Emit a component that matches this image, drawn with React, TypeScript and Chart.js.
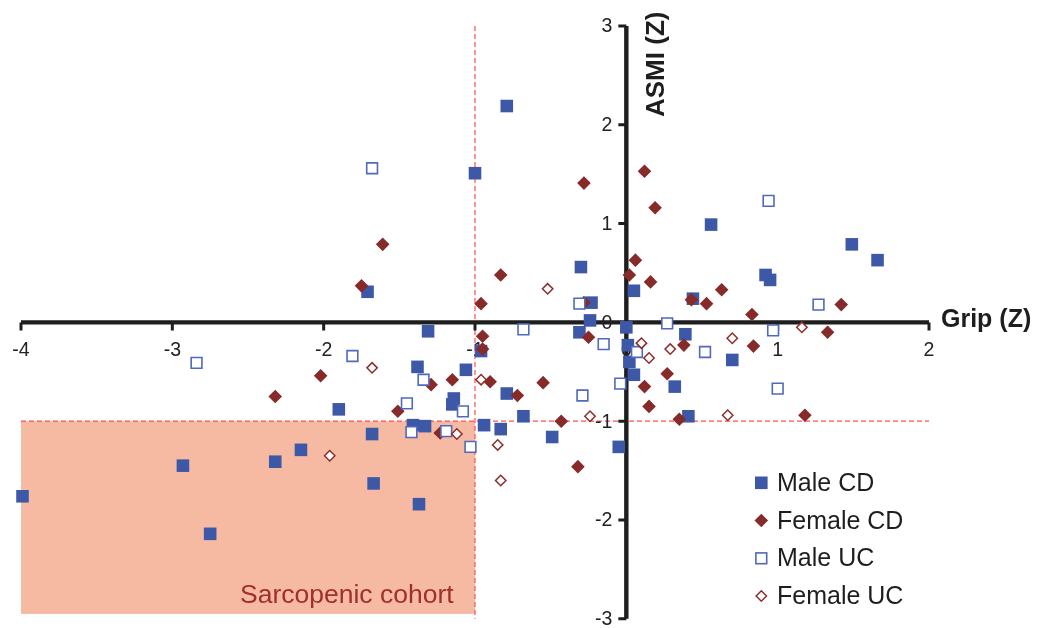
import React, { useEffect, useRef } from 'react';
import { Chart, registerables } from 'chart.js';

Chart.register(...registerables);

const xTicks = [-4, -3, -2, -1, 0, 1, 2];
const yTicks = [-3, -2, -1, 0, 1, 2, 3];
const cutoffX = -1;
const cutoffY = -1;

const seriesNames = ['Male CD', 'Female CD', 'Male UC', 'Female UC'];

const maleCD: [number, number][] = [
  [-1.0, 1.51], [-0.79, 2.19], [-0.3, 0.56], [0.05, 0.32], [-1.71, 0.31], [-0.23, 0.2],
  [0.56, 0.99], [1.49, 0.79], [1.66, 0.63], [0.92, 0.48], [0.95, 0.43], [0.44, 0.24],
  [0.39, -0.12], [0.7, -0.38], [0.32, -0.65], [0.41, -0.95], [-0.24, 0.02], [-1.31, -0.09],
  [-0.31, -0.1], [0.0, -0.05], [0.01, -0.23], [0.02, -0.4], [0.05, -0.53], [-0.05, -1.26],
  [-0.49, -1.16], [-0.68, -0.95], [-0.79, -0.72], [-0.83, -1.08], [-0.94, -1.04], [-0.96, -0.29],
  [-1.06, -0.48], [-1.14, -0.77], [-1.15, -0.83], [-1.38, -0.45], [-1.41, -1.04], [-1.33, -1.05],
  [-1.68, -1.13], [-1.67, -1.63], [-1.37, -1.84], [-1.9, -0.88], [-2.15, -1.29], [-2.32, -1.41],
  [-2.93, -1.45], [-3.99, -1.76], [-2.75, -2.14],
];

const femaleCD: [number, number][] = [
  [-0.28, 1.41], [0.12, 1.53], [0.19, 1.16], [-1.61, 0.79], [-0.83, 0.48], [0.06, 0.63],
  [0.02, 0.48], [0.16, 0.41], [-1.75, 0.37], [-0.96, 0.19], [-0.28, 0.2], [0.63, 0.33],
  [0.43, 0.23], [0.53, 0.19], [1.42, 0.18], [0.83, 0.08], [1.33, -0.1], [0.38, -0.23],
  [0.84, -0.24], [0.27, -0.52], [0.35, -0.98], [1.18, -0.94], [-0.25, -0.15], [0.12, -0.65],
  [0.15, -0.85], [-0.43, -1.0], [-0.32, -1.46], [-0.55, -0.61], [-0.72, -0.74], [-0.9, -0.6],
  [-0.95, -0.14], [-0.95, -0.27], [-1.15, -0.58], [-1.23, -1.12], [-1.29, -0.63], [-1.51, -0.9],
  [-2.02, -0.54], [-2.32, -0.75],
];

const maleUC: [number, number][] = [
  [-1.68, 1.56], [-0.31, 0.19], [0.94, 1.23], [1.27, 0.18], [0.27, -0.01], [0.97, -0.08],
  [0.52, -0.3], [1.0, -0.67], [-0.68, -0.07], [-0.15, -0.22], [0.07, -0.3], [-0.04, -0.62],
  [-0.29, -0.74], [-1.03, -1.26], [-1.08, -0.9], [-1.19, -1.1], [-1.34, -0.58], [-1.45, -0.82],
  [-1.42, -1.11], [-1.81, -0.34], [-2.84, -0.41],
];

const femaleUC: [number, number][] = [
  [-0.52, 0.34], [1.16, -0.05], [0.7, -0.16], [0.29, -0.27], [0.67, -0.94], [0.1, -0.21],
  [0.15, -0.36], [-0.24, -0.95], [-0.85, -1.24], [-0.83, -1.6], [-0.96, -0.58], [-1.12, -1.13],
  [-1.68, -0.46], [-1.96, -1.35],
];

const FONT = '"Liberation Sans", Arial, Helvetica, sans-serif';
const BLUE = '#3E58A8';
const RED = '#862A2A';
const BLUE_OPEN = '#5069BC';
const RED_OPEN = '#8E2C2C';

function drawMarker(ctx: CanvasRenderingContext2D, kind: number, x: number, y: number) {
  ctx.save();
  if (kind === 0) {
    ctx.fillStyle = BLUE;
    ctx.fillRect(x - 6.3, y - 6.3, 12.6, 12.6);
  } else if (kind === 1) {
    const r = 6.8;
    ctx.fillStyle = RED;
    ctx.beginPath();
    ctx.moveTo(x, y - r); ctx.lineTo(x + r, y); ctx.lineTo(x, y + r); ctx.lineTo(x - r, y); ctx.closePath();
    ctx.fill();
  } else if (kind === 2) {
    ctx.fillStyle = '#fff';
    ctx.strokeStyle = BLUE_OPEN;
    ctx.lineWidth = 1.6;
    ctx.fillRect(x - 5.4, y - 5.4, 10.8, 10.8);
    ctx.strokeRect(x - 5.4, y - 5.4, 10.8, 10.8);
  } else {
    const r = 5.2;
    ctx.fillStyle = '#fff';
    ctx.strokeStyle = RED_OPEN;
    ctx.lineWidth = 1.5;
    ctx.beginPath();
    ctx.moveTo(x, y - r); ctx.lineTo(x + r, y); ctx.lineTo(x, y + r); ctx.lineTo(x - r, y); ctx.closePath();
    ctx.fill();
    ctx.stroke();
  }
  ctx.restore();
}

const overlay = {
  id: 'overlay',
  beforeDatasetsDraw(chart: any) {
    const { ctx, scales } = chart;
    const xs = scales.x;
    const ys = scales.y;
    const px = (v: number) => xs.getPixelForValue(v);
    const py = (v: number) => ys.getPixelForValue(v);
    ctx.save();

    // sarcopenic shaded region
    ctx.fillStyle = '#F6BAA2';
    ctx.fillRect(px(-4), py(cutoffY), px(cutoffX) - px(-4), py(-2.95) - py(cutoffY));

    // dashed cut-off lines
    ctx.strokeStyle = '#FF4F4F';
    ctx.lineWidth = 1.2;
    ctx.setLineDash([5, 3]);
    ctx.beginPath();
    ctx.moveTo(px(cutoffX), py(3));
    ctx.lineTo(px(cutoffX), py(-3));
    ctx.moveTo(px(-4), py(cutoffY));
    ctx.lineTo(px(2), py(cutoffY));
    ctx.stroke();
    ctx.setLineDash([]);

    // axes
    ctx.strokeStyle = '#1E1E1E';
    ctx.lineWidth = 4.4;
    ctx.beginPath();
    ctx.moveTo(px(-4), py(0));
    ctx.lineTo(px(2), py(0));
    ctx.moveTo(px(0), py(3));
    ctx.lineTo(px(0), py(-3));
    ctx.stroke();
    ctx.lineWidth = 3;
    ctx.beginPath();
    xTicks.forEach((t) => {
      ctx.moveTo(px(t), py(0));
      ctx.lineTo(px(t), py(0) + 8);
    });
    yTicks.forEach((t) => {
      ctx.moveTo(px(0) - 8, py(t));
      ctx.lineTo(px(0), py(t));
    });
    ctx.stroke();

    // tick labels
    ctx.fillStyle = '#222';
    ctx.font = `19.5px ${FONT}`;
    ctx.textAlign = 'center';
    ctx.textBaseline = 'alphabetic';
    xTicks.forEach((t) => {
      ctx.fillText(String(t), px(t), py(0) + 34);
    });
    ctx.textAlign = 'right';
    ctx.textBaseline = 'middle';
    yTicks.forEach((t) => {
      ctx.fillText(String(t), px(0) - 14, py(t) + 1);
    });

    // axis titles
    ctx.font = `bold 25px ${FONT}`;
    ctx.textAlign = 'left';
    ctx.textBaseline = 'alphabetic';
    ctx.fillStyle = '#1E1E1E';
    ctx.fillText('Grip (Z)', 941, 327);
    ctx.save();
    ctx.translate(664, 117);
    ctx.rotate(-Math.PI / 2);
    ctx.font = `bold 26px ${FONT}`;
    ctx.fillText('ASMI (Z)', 0, 0);
    ctx.restore();

    // region label
    ctx.font = `26.5px ${FONT}`;
    ctx.fillStyle = '#A02F2F';
    ctx.fillText('Sarcopenic cohort', 240, 603);

    ctx.restore();
  },
  afterDatasetsDraw(chart: any) {
    const { ctx } = chart;
    ctx.save();
    const rows = [482.8, 520.5, 558.3, 596];
    seriesNames.forEach((name, i) => {
      drawMarker(ctx, i, 761.3, rows[i]);
      ctx.font = `25px ${FONT}`;
      ctx.fillStyle = '#1E1E1E';
      ctx.textAlign = 'left';
      ctx.textBaseline = 'alphabetic';
      ctx.fillText(name, 777, rows[i] + 8);
    });
    ctx.restore();
  },
};

const toPts = (arr: [number, number][]) => arr.map(([x, y]) => ({ x, y }));

export default function App() {
  const ref = useRef<HTMLCanvasElement>(null);
  useEffect(() => {
    document.body.style.margin = '0';
    const canvas = ref.current;
    if (!canvas) return;
    const chart = new Chart(canvas, {
      type: 'scatter',
      data: {
        datasets: [
          {
            label: seriesNames[0],
            data: toPts(maleCD),
            pointStyle: 'rect',
            pointRadius: 8.9,
            backgroundColor: BLUE,
            borderColor: BLUE,
            borderWidth: 0,
            order: 3,
            clip: false,
          },
          {
            label: seriesNames[1],
            data: toPts(femaleCD),
            pointStyle: 'rectRot',
            pointRadius: 6.8,
            backgroundColor: RED,
            borderColor: RED,
            borderWidth: 0,
            order: 2,
            clip: false,
          },
          {
            label: seriesNames[2],
            data: toPts(maleUC),
            pointStyle: 'rect',
            pointRadius: 7.6,
            backgroundColor: '#FFFFFF',
            borderColor: BLUE_OPEN,
            borderWidth: 1.6,
            order: 1,
            clip: false,
          },
          {
            label: seriesNames[3],
            data: toPts(femaleUC),
            pointStyle: 'rectRot',
            pointRadius: 5.2,
            backgroundColor: '#FFFFFF',
            borderColor: RED_OPEN,
            borderWidth: 1.5,
            order: 0,
            clip: false,
          },
        ] as any,
      },
      options: {
        animation: false,
        responsive: false,
        maintainAspectRatio: false,
        devicePixelRatio: 1,
        layout: { padding: { left: 21, right: 113, top: 26, bottom: 6 } },
        scales: {
          x: { type: 'linear', min: -4, max: 2, display: false },
          y: { type: 'linear', min: -3, max: 3, display: false },
        },
        plugins: {
          legend: { display: false },
          tooltip: { enabled: false },
        },
        events: [],
      } as any,
      plugins: [overlay],
    });
    return () => chart.destroy();
  }, []);
  return (
    <div style={{ width: 1042, height: 628, background: '#fff' }}>
      <canvas ref={ref} width={1042} height={628} style={{ display: 'block' }} />
    </div>
  );
}
